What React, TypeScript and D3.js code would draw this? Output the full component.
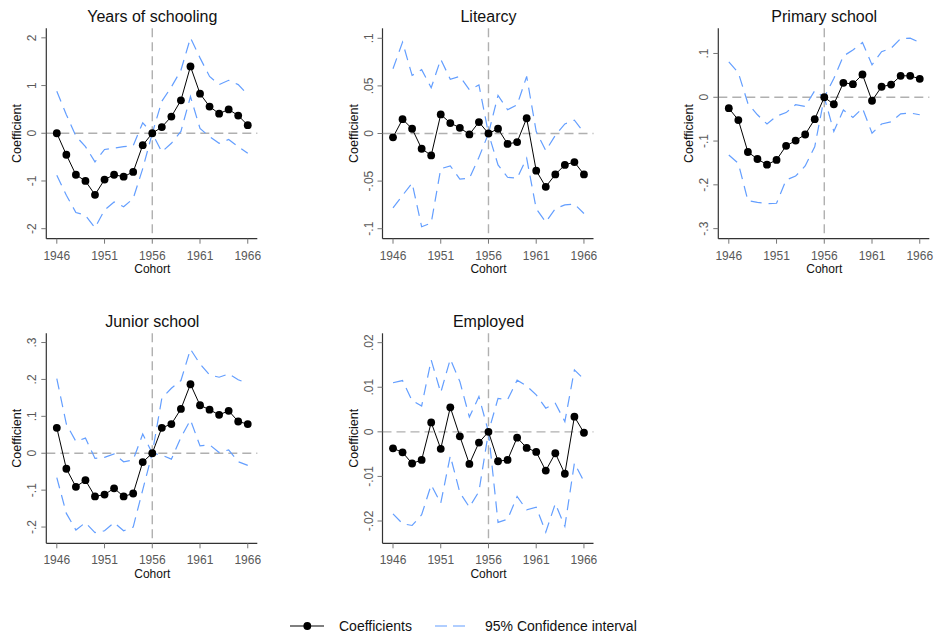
import * as d3 from 'd3';

const cohorts = d3.range(1946, 1967);
const xTicks = [1946, 1951, 1956, 1961, 1966];

const titles = ['Years of schooling', 'Litearcy', 'Primary school', 'Junior school', 'Employed'];

// Years of schooling
const schoolCoef = [0, -0.45, -0.87, -1.0, -1.29, -0.97, -0.87, -0.91, -0.81, -0.25, 0, 0.13, 0.35, 0.69, 1.4, 0.83, 0.56, 0.41, 0.5, 0.37, 0.17];
const schoolHi = [0.88, 0.39, -0.06, -0.28, -0.6, -0.34, -0.31, -0.28, -0.26, 0.22, 0, 0.67, 0.97, 1.32, 2.0, 1.58, 1.19, 1.02, 1.11, 1.02, 0.81];
const schoolLo = [-0.88, -1.3, -1.66, -1.72, -1.98, -1.61, -1.44, -1.54, -1.37, -0.74, 0, -0.39, -0.21, 0.04, 0.77, 0.1, -0.07, -0.21, -0.13, -0.28, -0.42];

// Literacy
const litCoef = [-0.004, 0.015, 0.005, -0.016, -0.023, 0.02, 0.011, 0.006, -0.001, 0.012, 0, 0.005, -0.011, -0.009, 0.016, -0.039, -0.056, -0.043, -0.033, -0.03, -0.043];
const litHi = [0.068, 0.096, 0.061, 0.067, 0.048, 0.078, 0.057, 0.06, 0.046, 0.051, 0, 0.04, 0.025, 0.03, 0.06, 0.002, -0.018, -0.002, 0.01, 0.014, 0.001];
const litLo = [-0.078, -0.065, -0.052, -0.098, -0.094, -0.037, -0.034, -0.048, -0.047, -0.025, 0, -0.033, -0.046, -0.047, -0.026, -0.079, -0.093, -0.079, -0.075, -0.074, -0.084];

// Primary school
const primCoef = [-0.025, -0.052, -0.125, -0.141, -0.154, -0.143, -0.111, -0.099, -0.085, -0.05, 0, -0.016, 0.033, 0.03, 0.052, -0.008, 0.024, 0.029, 0.049, 0.049, 0.042];
const primHi = [0.081, 0.056, -0.014, -0.04, -0.061, -0.043, -0.035, -0.017, -0.021, 0.015, 0, 0.043, 0.094, 0.108, 0.125, 0.074, 0.104, 0.112, 0.134, 0.135, 0.125];
const primLo = [-0.132, -0.151, -0.236, -0.24, -0.243, -0.242, -0.189, -0.18, -0.157, -0.113, 0, -0.078, -0.029, -0.046, -0.025, -0.082, -0.061, -0.056, -0.038, -0.036, -0.04];

// Junior school
const junCoef = [0.069, -0.042, -0.091, -0.073, -0.117, -0.112, -0.095, -0.117, -0.109, -0.024, 0, 0.069, 0.079, 0.12, 0.187, 0.13, 0.118, 0.104, 0.115, 0.086, 0.079];
const junHi = [0.202, 0.079, 0.032, 0.041, -0.014, -0.011, -0.002, -0.023, -0.018, 0.052, 0, 0.149, 0.176, 0.197, 0.282, 0.242, 0.212, 0.206, 0.215, 0.199, 0.19];
const junLo = [-0.066, -0.163, -0.208, -0.188, -0.215, -0.21, -0.188, -0.21, -0.2, -0.099, 0, -0.005, -0.016, 0.043, 0.09, 0.02, 0.023, 0.002, 0.009, -0.023, -0.033];

// Employed
const empCoef = [-0.0037, -0.0046, -0.0071, -0.0063, 0.0021, -0.0038, 0.0055, -0.001, -0.0072, -0.0024, 0, -0.0066, -0.0063, -0.0013, -0.0036, -0.0045, -0.0087, -0.0048, -0.0094, 0.0034, -0.0002];
const empHi = [0.011, 0.0115, 0.007, 0.0058, 0.0161, 0.0088, 0.0163, 0.0113, 0.0033, 0.0079, 0, 0.0075, 0.0072, 0.0116, 0.0103, 0.0083, 0.0053, 0.0064, 0.0023, 0.0139, 0.0118];
const empLo = [-0.0184, -0.0206, -0.021, -0.0186, -0.0119, -0.016, -0.0054, -0.0136, -0.0169, -0.0134, 0, -0.0203, -0.0196, -0.0145, -0.0175, -0.0169, -0.0225, -0.0161, -0.0212, -0.007, -0.0111];

const yTickValues = [
  [-2, -1, 0, 1, 2],
  [-0.1, -0.05, 0, 0.05, 0.1],
  [-0.3, -0.2, -0.1, 0, 0.1],
  [-0.2, -0.1, 0, 0.1, 0.2, 0.3],
  [-0.02, -0.01, 0, 0.01, 0.02],
];
const yTickLabels = [
  ['-2', '-1', '0', '1', '2'],
  ['-.1', '-.05', '0', '.05', '.1'],
  ['-.3', '-.2', '-.1', '0', '.1'],
  ['-.2', '-.1', '0', '.1', '.2', '.3'],
  ['-.02', '-.01', '0', '.01', '.02'],
];
const yDomains: [number, number][] = [
  [-2.21, 2.2],
  [-0.1105, 0.1105],
  [-0.323, 0.1575],
  [-0.244, 0.325],
  [-0.025, 0.0221],
];

const coefs = [schoolCoef, litCoef, primCoef, junCoef, empCoef];
const his = [schoolHi, litHi, primHi, junHi, empHi];
const los = [schoolLo, litLo, primLo, junLo, empLo];

// panel placement (y-axis x, plot top, plot bottom)
const panelPos = [
  { left: 46.3, top: 28.3, bottom: 238.7 },
  { left: 382.5, top: 28.3, bottom: 238.7 },
  { left: 718.3, top: 28.3, bottom: 238.7 },
  { left: 46.3, top: 333.3, bottom: 543.3 },
  { left: 382.5, top: 333.3, bottom: 543.3 },
];
const plotW = 211;

const FONT = 'Arial, "Liberation Sans", sans-serif';
const BLUE = '#639eff';
const GRAY = '#b0b0b0';
const AXIS = '#333';
const TICKTXT = '#595959';

function Panel({ i }: { i: number }) {
  const { left, top, bottom } = panelPos[i];
  const x = d3.scaleLinear().domain([1944.9, 1967.0]).range([left, left + plotW]);
  const y = d3.scaleLinear().domain(yDomains[i]).range([bottom, top]);
  const line = d3.line<number>().x((_, k) => x(cohorts[k])).y((d) => y(d));

  return (
    <g>
      <text x={x(1956)} y={top - 6} textAnchor="middle" fontSize={16} fill="#111">{titles[i]}</text>
      {/* reference lines */}
      <line x1={left} x2={left + plotW} y1={y(0)} y2={y(0)} stroke={GRAY} strokeWidth={1.4} strokeDasharray="9 5" />
      <line x1={x(1956)} x2={x(1956)} y1={top} y2={bottom} stroke={GRAY} strokeWidth={1.4} strokeDasharray="9 5" />
      {/* confidence interval */}
      <path d={line(his[i]) || ''} fill="none" stroke={BLUE} strokeWidth={1.2} strokeDasharray="11 7" />
      <path d={line(los[i]) || ''} fill="none" stroke={BLUE} strokeWidth={1.2} strokeDasharray="11 7" />
      {/* coefficients */}
      <path d={line(coefs[i]) || ''} fill="none" stroke="#000" strokeWidth={1} />
      {coefs[i].map((v, k) => (
        <circle key={k} cx={x(cohorts[k])} cy={y(v)} r={3.9} fill="#000" />
      ))}
      {/* axes */}
      <line x1={left} x2={left} y1={top} y2={bottom} stroke={AXIS} strokeWidth={1.2} />
      <line x1={left} x2={left + plotW} y1={bottom} y2={bottom} stroke={AXIS} strokeWidth={1.2} />
      {yTickValues[i].map((t, k) => (
        <g key={k}>
          <line x1={left - 5} x2={left} y1={y(t)} y2={y(t)} stroke="#777" strokeWidth={1} />
          <text
            transform={`translate(${left - 10},${y(t)}) rotate(-90)`}
            textAnchor="middle"
            fontSize={12}
            fill={TICKTXT}
          >
            {yTickLabels[i][k]}
          </text>
        </g>
      ))}
      {xTicks.map((t) => (
        <g key={t}>
          <line x1={x(t)} x2={x(t)} y1={bottom} y2={bottom + 5} stroke="#777" strokeWidth={1} />
          <text x={x(t)} y={bottom + 21} textAnchor="middle" fontSize={12} fill={TICKTXT}>{t}</text>
        </g>
      ))}
      <text x={x(1956)} y={bottom + 34.5} textAnchor="middle" fontSize={12} fill="#111">Cohort</text>
      <text
        transform={`translate(${left - 25},${(top + bottom) / 2}) rotate(-90)`}
        textAnchor="middle"
        fontSize={12.5}
        fill="#111"
      >
        Coefficient
      </text>
    </g>
  );
}

export default function App() {
  return (
    <svg width={937} height={636} style={{ position: 'absolute', left: 0, top: 0, background: '#fff' }} fontFamily={FONT}>
      <rect width={937} height={636} fill="#fff" />
      {titles.map((_, i) => (
        <Panel key={i} i={i} />
      ))}
      {/* legend */}
      <g>
        <line x1={290} x2={324} y1={626} y2={626} stroke="#000" strokeWidth={1.2} />
        <circle cx={307.3} cy={626} r={3.9} fill="#000" />
        <text x={339} y={631} fontSize={14} fill="#111">Coefficients</text>
        <line x1={435} x2={470} y1={626} y2={626} stroke={BLUE} strokeWidth={1.2} strokeDasharray="12 6" />
        <text x={485} y={631} fontSize={14} fill="#111">95% Confidence interval</text>
      </g>
    </svg>
  );
}
